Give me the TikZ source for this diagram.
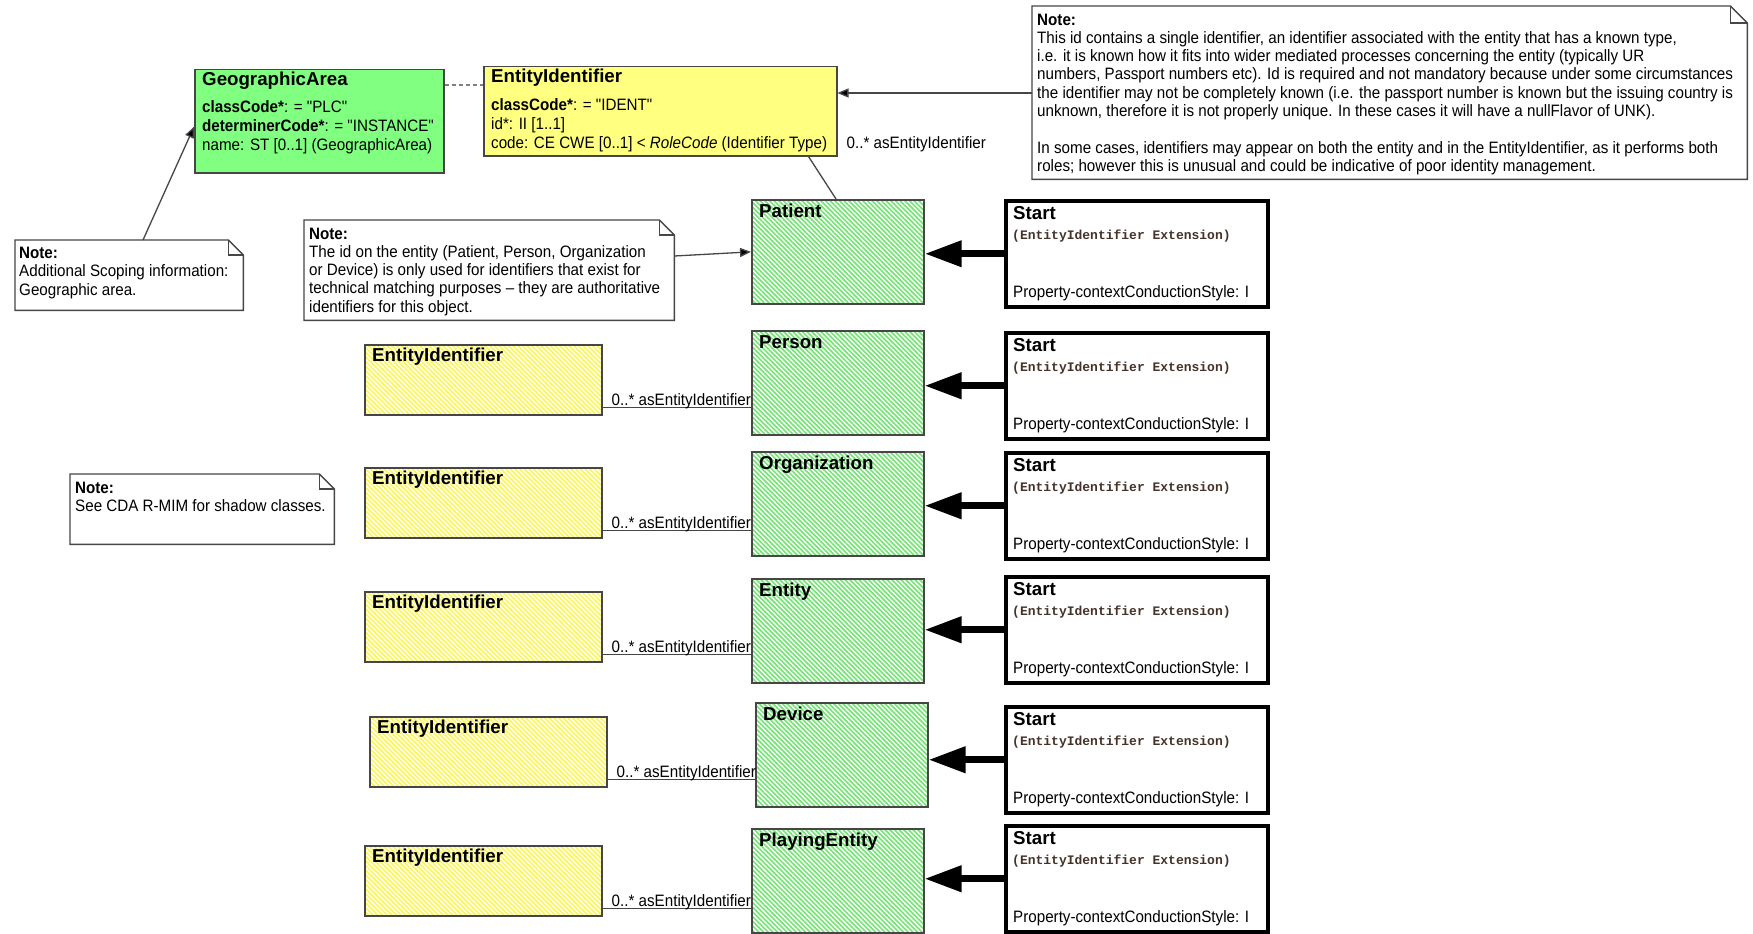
\documentclass[tikz,border=0pt]{standalone}
\usepackage{fontspec}
\setmainfont{Liberation Sans}
\newfontfamily\nf[FakeStretch=0.92]{Liberation Sans}
\newfontfamily\mf{Liberation Mono}
\usetikzlibrary{arrows.meta,patterns.meta,calc}
\definecolor{geogreen}{RGB}{128,255,128}
\definecolor{eiyellow}{RGB}{255,255,128}
\definecolor{hatchgreen}{RGB}{120,228,120}
\definecolor{hatchyellow}{RGB}{252,246,90}
\definecolor{edge}{RGB}{70,70,70}
\definecolor{monocol}{RGB}{70,50,40}
\tikzset{
  box/.style={draw=edge, line width=1.5pt, inner sep=0pt, anchor=north west},
  solidgreen/.style={box, fill=geogreen},
  solidyellow/.style={box, fill=eiyellow},
  hatchg/.style={box, pattern={Lines[angle=-45,distance=3.3pt,line width=1.7pt]}, pattern color=hatchgreen},
  hatchy/.style={box, pattern={Lines[angle=-45,distance=3.3pt,line width=1.7pt]}, pattern color=hatchyellow},
  startbox/.style={draw=black, line width=3.5pt, inner sep=0pt, anchor=north west, minimum width=262pt, minimum height=106pt},
  notebox/.style={inner sep=0pt, anchor=north west},
  noteline/.style={draw=edge, line width=1.4pt, fill=white, line join=miter},
  ttl/.style={inner sep=0pt, anchor=base west, font=\fontsize{18.7}{20}\selectfont\bfseries},
  body/.style={inner sep=0pt, anchor=north west, align=left, font=\nf\fontsize{16.5}{19}\selectfont},
  notetext/.style={inner sep=0pt, anchor=north west, align=left, font=\nf\fontsize{16.5}{18.3}\selectfont},
  bignotetext/.style={inner sep=0pt, anchor=north west, align=left, font=\nf\fontsize{16.5}{18.3}\selectfont},
  lbl/.style={inner sep=0pt, anchor=base west, font=\nf\fontsize{16.5}{19}\selectfont},
  monotxt/.style={inner sep=0pt, anchor=base west, text=monocol, font=\mf\bfseries\fontsize{13}{14}\selectfont},
  proptxt/.style={inner sep=0pt, anchor=base west, font=\nf\fontsize{16.5}{19}\selectfont},
  bigarrow/.style={line width=7pt, -{Triangle[length=37pt,width=25pt]}},
  thinarrow/.style={draw=edge, line width=1.3pt, -{Triangle[length=11pt,width=9pt,fill=black]}},
  conn/.style={draw=edge, line width=1.3pt},
  dashconn/.style={draw=gray, line width=1.3pt, dash pattern=on 4pt off 3pt},
}
\newcommand{\dogear}[2]{% node name, fold size
  \draw[noteline] (#1.north west) -- ([xshift=-#2]#1.north east) -- ([yshift=-#2]#1.north east) -- (#1.south east) -- (#1.south west) -- cycle;
  \draw[draw=edge, line width=1.2pt] ([xshift=-#2]#1.north east) -- ([xshift=-#2,yshift=-#2]#1.north east) -- ([yshift=-#2]#1.north east);
}
\begin{document}
\begin{tikzpicture}[x=1pt,y=-1pt]
\fill[white] (0,0) rectangle (1753,934);
\useasboundingbox (0,0) rectangle (1753,934);

% ---------- notes ----------
\node[notebox, minimum width=715pt, minimum height=173pt] (bignote) at (1032,6) {};
\dogear{bignote}{17pt}
\node[bignotetext] (bignotet) at (1037,13.5) {\bfseries Note:\\
This id contains a single identifier, an identifier associated with the entity that has a known type,\\
i.e. it is known how it fits into wider mediated processes concerning the entity (typically UR\\
numbers, Passport numbers etc). Id is required and not mandatory because under some circumstances\\
the identifier may not be completely known (i.e. the passport number is known but the issuing country is\\
unknown, therefore it is not properly unique. In these cases it will have a nullFlavor of UNK).\\[18.3pt]
In some cases, identifiers may appear on both the entity and in the EntityIdentifier, as it performs both\\
roles; however this is unusual and could be indicative of poor identity management.};

\node[notebox, minimum width=228pt, minimum height=70pt] (gnote) at (15,240) {};
\dogear{gnote}{15pt}
\node[notetext] (gnotet) at (19,247) {\bfseries Note:\\ Additional Scoping information:\\ Geographic area.};

\node[notebox, minimum width=370pt, minimum height=100pt] (cnote) at (304,220) {};
\dogear{cnote}{15pt}
\node[notetext] (cnotet) at (309,227.5) {\bfseries Note:\\
The id on the entity (Patient, Person, Organization\\
or Device) is only used for identifiers that exist for\\
technical matching purposes – they are authoritative\\
identifiers for this object.};

\node[notebox, minimum width=264pt, minimum height=70pt] (snote) at (70,474) {};
\dogear{snote}{15pt}
\node[notetext] (snotet) at (75,482) {\bfseries Note:\\ See CDA R-MIM  for shadow classes.};

% ---------- class boxes ----------
\node[solidgreen, minimum width=249pt, minimum height=103pt] (geo) at (194,69) {};
\node[ttl] (geot) at (202,85) {GeographicArea};
\node[body] (geob) at (202,100) {\bfseries classCode*\mdseries: = "PLC"\\
\bfseries determinerCode*\mdseries: = "INSTANCE"\\
name: ST [0..1] (GeographicArea)};

\node[solidyellow, minimum width=353pt, minimum height=89pt] (ei) at (483,66) {};
\node[ttl] (eit) at (491,82) {EntityIdentifier};
\node[body] (eib) at (491,98) {\bfseries classCode*\mdseries: = "IDENT"\\
id*: II [1..1]\\
code: CE CWE [0..1] < \textit{RoleCode} (Identifier Type)};

% ---------- rows ----------
\foreach \i/\nm/\gx/\gy/\sy in {1/Patient/751/199/199, 2/Person/751/330/331, 3/Organization/751/451/451, 4/Entity/751/578/575, 5/Device/755/702/705, 6/PlayingEntity/751/828/824}{
  \node[hatchg, minimum width=172pt, minimum height=104pt] (g\i) at (\gx,\gy) {};
  \node[ttl] (gt\i) at ([xshift=8pt,yshift=-18pt]g\i.north west) {\nm};
  \node[startbox] (s\i) at (1004,\sy) {};
  \node[ttl] (st\i) at ([xshift=9pt,yshift=-20pt]s\i.north west) {Start};
  \node[monotxt] (sm\i) at ([xshift=8pt,yshift=-40pt]s\i.north west) {(EntityIdentifier Extension)};
  \node[proptxt] (sp\i) at ([xshift=9pt,yshift=11pt]s\i.south west) {Property-contextConductionStyle: I};
  \draw[bigarrow] (s\i.west) -- (s\i.west -| g\i.east);
}

\foreach \i/\yx/\yy in {2/364/344, 3/364/467, 4/364/591, 5/369/716, 6/364/845}{
  \node[hatchy, minimum width=237pt, minimum height=70pt] (y\i) at (\yx,\yy) {};
  \node[ttl] (yt\i) at ([xshift=8pt,yshift=-17pt]y\i.north west) {EntityIdentifier};
  \coordinate (c\i) at ([yshift=-28pt]y\i.east);
  \draw[conn] (c\i) -- (c\i -| g\i.west);
  \node[lbl] (l\i) at ([xshift=9pt,yshift=2pt]c\i) {0..* asEntityIdentifier};
}

% ---------- connectors ----------
\draw[dashconn] ([yshift=-16pt]geo.north east) -- ([yshift=-16pt]geo.north east -| ei.west);
\draw[conn] ([xshift=-29pt]ei.south east) -- ([xshift=85pt]g1.north west);
\draw[thinarrow] ([yshift=-87pt]bignote.north west) -- ([yshift=-87pt]bignote.north west -| ei.east);
\node[lbl] (eilbl) at ([xshift=9pt,yshift=8pt]ei.south east) {0..* asEntityIdentifier};
\draw[thinarrow] ([xshift=128pt]gnote.north west) -- ([yshift=-5.5pt]geo.west);
\draw[thinarrow] ([yshift=-36pt]cnote.north east) -- (g1.west);
\end{tikzpicture}
\end{document}
